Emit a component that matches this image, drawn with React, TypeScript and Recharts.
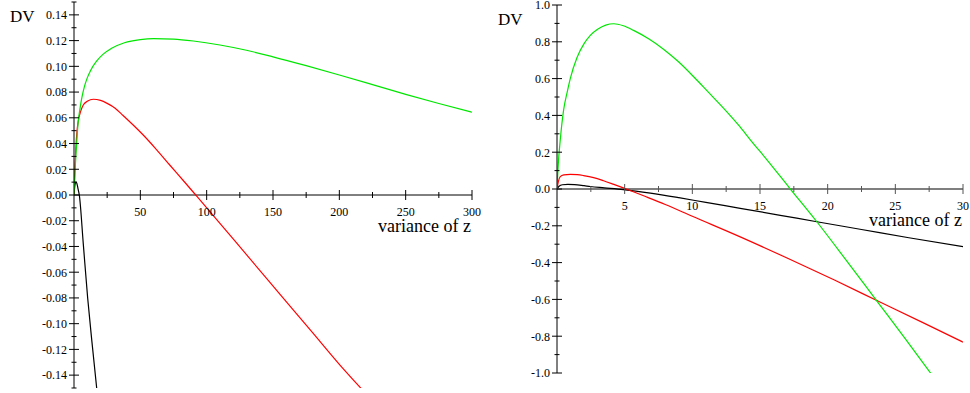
import { LineChart, Line, XAxis, YAxis, ReferenceLine } from "recharts"

// values, [variance of z, DV]
const leftGreen = [
  [0, 0], [0.5, 0.012], [1, 0.023], [1.5, 0.032], [2.2, 0.043], [3, 0.055], [4.5, 0.067],
  [6, 0.076], [7.8, 0.084], [10, 0.091], [12.6, 0.097], [17, 0.104], [22, 0.1095], [28, 0.1138],
  [38, 0.1183], [50, 0.1208], [60, 0.1216], [75, 0.1212], [90, 0.1197], [110, 0.1166],
  [130, 0.1125], [150, 0.1074], [175, 0.1005], [200, 0.0933], [225, 0.0858], [250, 0.0782],
  [275, 0.0711], [300, 0.0643],
]
const leftRed = [
  [0, 0], [0.4, 0.012], [0.75, 0.022], [1.5, 0.038], [2.3, 0.05], [3.3, 0.058], [5, 0.065],
  [7, 0.07], [10, 0.0728], [14.6, 0.0744], [20, 0.0735], [25, 0.0712], [31, 0.0675],
  [37, 0.0618], [45, 0.054], [52, 0.0468], [62, 0.0355], [72, 0.0235], [83, 0.0105],
  [93, -0.0015], [110, -0.022], [130, -0.0464], [155, -0.0768], [180, -0.1072], [200, -0.1316],
  [217, -0.151],
]
const leftBlack = [
  [0, 0], [0.5, 0.006], [1, 0.0092], [1.6, 0.0103], [2.3, 0.0085], [3, 0.005], [4, 0],
  [7, -0.038], [10.3, -0.08], [13.5, -0.114], [17.1, -0.15],
]

const rightGreen = [
  [0, 0], [0.08, 0.12], [0.24, 0.266], [0.49, 0.43], [0.75, 0.525], [0.98, 0.6], [1.48, 0.715],
  [2, 0.79], [2.46, 0.835], [3, 0.868], [3.6, 0.891], [4.2, 0.898], [4.9, 0.887], [5.66, 0.862],
  [6.8, 0.815], [7.87, 0.76], [9, 0.69], [10.1, 0.61], [11.2, 0.525], [12.3, 0.44], [13.5, 0.34],
  [14.3, 0.266], [15.5, 0.16], [17.2, 0.004], [19.2, -0.178], [21.5, -0.4], [23.75, -0.62],
  [25.7, -0.81], [27.7, -1.01],
]
const rightRed = [
  [0, 0], [0.1, 0.04], [0.24, 0.067], [0.5, 0.077], [0.98, 0.08], [1.5, 0.078], [1.96, 0.073],
  [2.7, 0.062], [3.44, 0.045], [4.2, 0.025], [4.9, 0.006], [5.5, -0.011], [6.4, -0.037],
  [8, -0.084], [10, -0.148], [13.54, -0.26], [17, -0.375], [20.5, -0.495], [23.75, -0.61],
  [27, -0.725], [30, -0.832],
]
const rightBlack = [
  [0, 0], [0.15, 0.015], [0.4, 0.023], [0.8, 0.025], [1.3, 0.024], [2, 0.018], [2.46, 0.0135],
  [3.5, 0.0065], [4.9, -0.003], [6.9, -0.022], [9, -0.047], [11, -0.073], [13.54, -0.105],
  [16.5, -0.143], [19.2, -0.178], [22.5, -0.22], [26, -0.265], [30, -0.313],
]

const leftXMajor = [50, 100, 150, 200, 250, 300]
const leftXMinor = [25, 75, 125, 175, 225, 275]
const leftYMajor = [-0.14, -0.12, -0.1, -0.08, -0.06, -0.04, -0.02, 0, 0.02, 0.04, 0.06, 0.08, 0.1, 0.12, 0.14]
const leftYMinor = [-0.15, -0.13, -0.11, -0.09, -0.07, -0.05, -0.03, -0.01, 0.01, 0.03, 0.05, 0.07, 0.09, 0.11, 0.13, 0.15]

const rightXMajor = [5, 10, 15, 20, 25, 30]
const rightXMinor = [2.5, 7.5, 12.5, 17.5, 22.5, 27.5]
const rightYMajor = [-1, -0.8, -0.6, -0.4, -0.2, 0, 0.2, 0.4, 0.6, 0.8, 1]
const rightYMinor = [-0.9, -0.7, -0.5, -0.3, -0.1, 0.1, 0.3, 0.5, 0.7, 0.9]

const FONT = "'Liberation Serif', 'Times New Roman', serif"

const pts = (arr: number[][]) => arr.map(([x, y]) => ({ x, y }))

function YTick(props: any) {
  const { x, y, payload, major, digits } = props
  const isMajor = major.includes(payload.value)
  const h = isMajor ? 5 : 2.5
  return (
    <g>
      <line x1={x - h} x2={x + h} y1={y} y2={y} stroke="#000" />
      {isMajor && (
        <text x={x - 7} y={y} dy="0.36em" textAnchor="end" fontSize={12} fontFamily={FONT} fill="#000">
          {payload.value.toFixed(digits)}
        </text>
      )}
    </g>
  )
}

function XTick(props: any) {
  const { x, y, payload, major, shift, stroke } = props
  const isMajor = major.includes(payload.value)
  const h = isMajor ? 5 : 3
  const y0 = y - shift
  return (
    <g>
      <line x1={x} x2={x} y1={y0 - h} y2={y0 + h} stroke={stroke} />
      {isMajor && (
        <text x={x} y={y0 + 21} textAnchor="middle" fontSize={12} fontFamily={FONT} fill="#000">
          {payload.value}
        </text>
      )}
    </g>
  )
}

function Panel({
  left, width, margin, xDomain, xMajor, xMinor, yDomain, yMajor, yMinor, digits, series, axisStroke, axisWidth,
}: any) {
  const plotH = 393 - margin.top - margin.bottom
  return (
    <div style={{ position: "absolute", left, top: 0 }}>
      <LineChart width={width} height={393} margin={{ ...margin, left: margin.left - 60, bottom: margin.bottom - 1 }}>
        <XAxis
          type="number"
          dataKey="x"
          domain={xDomain}
          ticks={[...xMajor, ...xMinor].sort((a, b) => a - b)}
          interval={0}
          height={1}
          axisLine={false}
          tickLine={false}
          tickSize={0}
          tickMargin={0}
          allowDataOverflow
          tick={(p: any) => <XTick {...p} major={xMajor} shift={plotH / 2} stroke={axisStroke} />}
        />
        <YAxis
          type="number"
          domain={yDomain}
          width={60}
          ticks={[...yMajor, ...yMinor].sort((a, b) => a - b)}
          interval={0}
          allowDataOverflow
          axisLine={{ stroke: "#000" }}
          tickLine={false}
          tickSize={0}
          tickMargin={0}
          tick={(p: any) => <YTick {...p} major={yMajor} digits={digits} />}
        />
        <ReferenceLine y={0} stroke={axisStroke} strokeWidth={axisWidth} />
        {series.map((s: any) => (
          <Line
            key={s.color}
            data={pts(s.data)}
            dataKey="y"
            type="monotone"
            stroke={s.color}
            strokeWidth={1.2}
            dot={false}
            isAnimationActive={false}
          />
        ))}
      </LineChart>
    </div>
  )
}

const labelStyle = {
  position: "absolute" as const,
  fontFamily: FONT,
  color: "#000",
  lineHeight: 1,
  whiteSpace: "nowrap" as const,
}

export default function App() {
  return (
    <div style={{ position: "absolute", left: 0, top: 0, width: 970, height: 393, background: "#fff", overflow: "hidden" }}>
      <Panel
        left={0}
        width={485}
        margin={{ top: 2, right: 13, bottom: 5, left: 74 }}
        xDomain={[0, 300]}
        xMajor={leftXMajor}
        xMinor={leftXMinor}
        yDomain={[-0.15, 0.15]}
        yMajor={leftYMajor}
        yMinor={leftYMinor}
        digits={2}
        axisStroke="#000"
        axisWidth={1}
        series={[
          { data: leftBlack, color: "#000000" },
          { data: leftRed, color: "#ff0000" },
          { data: leftGreen, color: "#00e600" },
        ]}
      />
      <Panel
        left={485}
        width={485}
        margin={{ top: 5, right: 7, bottom: 20, left: 72 }}
        xDomain={[0, 30]}
        xMajor={rightXMajor}
        xMinor={rightXMinor}
        yDomain={[-1, 1]}
        yMajor={rightYMajor}
        yMinor={rightYMinor}
        digits={1}
        axisStroke="#555"
        axisWidth={1.6}
        series={[
          { data: rightBlack, color: "#000000" },
          { data: rightRed, color: "#ff0000" },
          { data: rightGreen, color: "#00e600" },
        ]}
      />
      <div style={{ ...labelStyle, left: 10, top: 8, fontSize: 17 }}>DV</div>
      <div style={{ ...labelStyle, left: 498, top: 11, fontSize: 17 }}>DV</div>
      <div style={{ ...labelStyle, right: 499, top: 217, fontSize: 18 }}>variance of z</div>
      <div style={{ ...labelStyle, right: 8, top: 211, fontSize: 18 }}>variance of z</div>
    </div>
  )
}
